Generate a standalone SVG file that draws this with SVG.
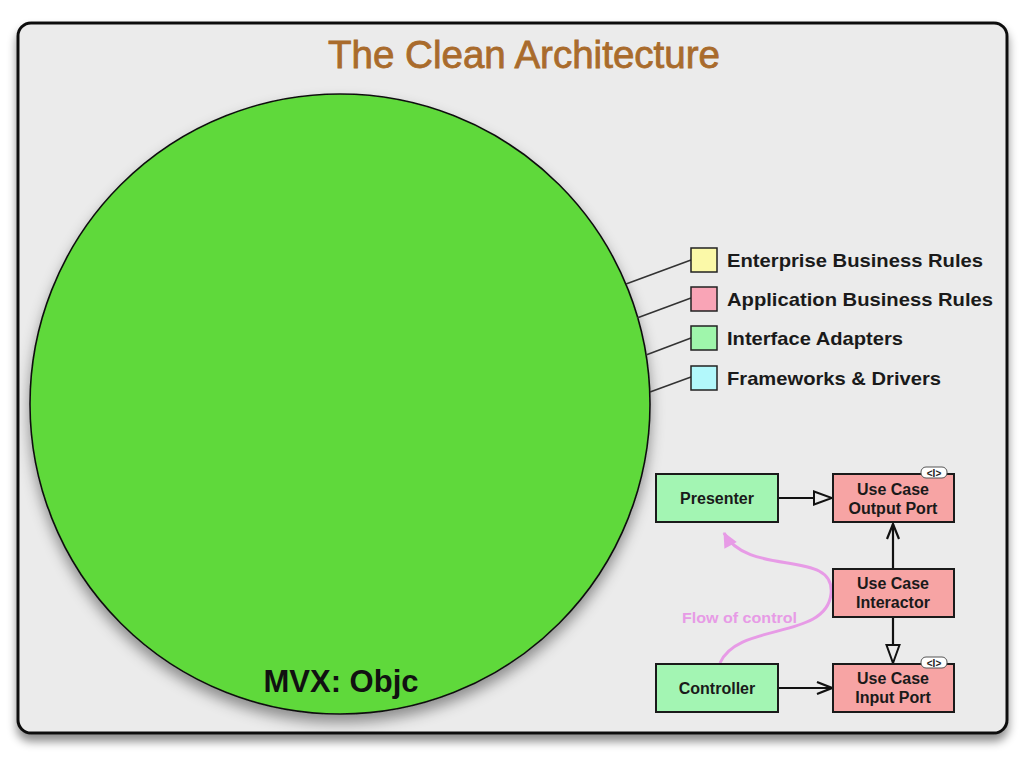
<svg xmlns="http://www.w3.org/2000/svg" width="1024" height="768" viewBox="0 0 1024 768">
<defs>
<style>
.lbl{font-family:"Liberation Sans",Arial,sans-serif;font-weight:bold;fill:#1a1a1a}
.leg{font-size:18.5px}
.box{font-size:16px;text-anchor:middle}
.sw{stroke:#222;stroke-width:1.5}
.nodeG{fill:#a3f5b3;stroke:#1a1a1a;stroke-width:2}
.nodeR{fill:#f7a4a4;stroke:#1a1a1a;stroke-width:2}
.conn{stroke:#111;stroke-width:2.2;fill:none}
.legline{stroke:#333;stroke-width:1.6;fill:none}
.badge{fill:#fff;stroke:#555;stroke-width:1}
.btxt{font-family:"Liberation Sans",Arial,sans-serif;font-size:10px;font-weight:bold;fill:#222;text-anchor:middle}
</style>
<filter id="sh" x="-10%" y="-10%" width="120%" height="125%">
<feDropShadow dx="0" dy="7" stdDeviation="5" flood-color="#000" flood-opacity="0.45"/>
</filter>
<filter id="csh" x="-10%" y="-10%" width="120%" height="125%">
<feDropShadow dx="0" dy="8" stdDeviation="7" flood-color="#000" flood-opacity="0.4"/>
</filter>
<marker id="tri" viewBox="0 0 22 16" markerWidth="22" markerHeight="16" refX="20" refY="8" orient="auto" markerUnits="userSpaceOnUse">
<path d="M2,1.5 L20,8 L2,14.5 Z" fill="#ebebeb" stroke="#111" stroke-width="2"/>
</marker>
<marker id="open" viewBox="0 0 20 16" markerWidth="20" markerHeight="16" refX="18" refY="8" orient="auto" markerUnits="userSpaceOnUse">
<path d="M3,2 L18,8 L3,14" fill="none" stroke="#111" stroke-width="2.2"/>
</marker>
<marker id="pink" viewBox="0 0 20 16" markerWidth="20" markerHeight="16" refX="16" refY="8" orient="auto" markerUnits="userSpaceOnUse">
<path d="M2,1 L17,8 L2,15 Z" fill="#e79be6"/>
</marker>
</defs>

<g id="frame">
<rect x="18" y="23" width="989" height="710" rx="13" fill="#ebebeb" stroke="#111" stroke-width="3" filter="url(#sh)"/>
</g>

<g id="title">
<text x="524" y="68" text-anchor="middle" font-family="'Liberation Sans',Arial,sans-serif" font-size="38" fill="#a96b2c" stroke="#a96b2c" stroke-width="0.8" textLength="392" lengthAdjust="spacingAndGlyphs">The Clean Architecture</text>
</g>

<g id="circle">
<circle cx="340" cy="404" r="310" fill="#5fd93a" stroke="#111" stroke-width="1.6" filter="url(#csh)"/>
<text x="341" y="692" text-anchor="middle" font-family="'Liberation Sans',Arial,sans-serif" font-weight="bold" font-size="31" fill="#111">MVX: Objc</text>
</g>

<g id="connectors">
<path class="legline" d="M626,284 L691,260"/>
<path class="legline" d="M637,318 L691,298"/>
<path class="legline" d="M646,355 L691,338"/>
<path class="legline" d="M650,392 L691,377"/>
<path class="conn" d="M779,498 L832,498" marker-end="url(#tri)"/>
<path class="conn" d="M893,569 L893,524" marker-end="url(#open)"/>
<path class="conn" d="M893,618 L893,663" marker-end="url(#tri)"/>
<path class="conn" d="M779,688 L832,688" marker-end="url(#open)"/>
<path d="M720,663 C738,622 826,640 831,594 C836,548 748,578 724,533" fill="none" stroke="#e79be6" stroke-width="3" marker-end="url(#pink)"/>
</g>

<g id="legend-enterprise">
<rect x="691" y="248" width="26" height="24" fill="#fbf9a8" class="sw"/>
<text x="727" y="267" class="lbl leg" textLength="256" lengthAdjust="spacingAndGlyphs">Enterprise Business Rules</text>
</g>
<g id="legend-application">
<rect x="691" y="287" width="26" height="24" fill="#f9a4b6" class="sw"/>
<text x="727" y="306" class="lbl leg" textLength="266" lengthAdjust="spacingAndGlyphs">Application Business Rules</text>
</g>
<g id="legend-adapters">
<rect x="691" y="326" width="26" height="24" fill="#9ff6ab" class="sw"/>
<text x="727" y="345" class="lbl leg" textLength="176" lengthAdjust="spacingAndGlyphs">Interface Adapters</text>
</g>
<g id="legend-frameworks">
<rect x="691" y="366" width="26" height="24" fill="#b2f8fb" class="sw"/>
<text x="727" y="385" class="lbl leg" textLength="214" lengthAdjust="spacingAndGlyphs">Frameworks &amp; Drivers</text>
</g>

<g id="presenter">
<rect x="656" y="474" width="122" height="48" class="nodeG"/>
<text x="717" y="504" class="lbl box">Presenter</text>
</g>
<g id="output-port">
<rect x="833" y="474" width="121" height="48" class="nodeR"/>
<text x="893" y="495" class="lbl box">Use Case</text>
<text x="893" y="514" class="lbl box">Output Port</text>
<rect x="921" y="467" width="26" height="11" rx="5" class="badge"/>
<text x="934" y="476.5" class="btxt">&lt;I&gt;</text>
</g>
<g id="interactor">
<rect x="833" y="569" width="121" height="48" class="nodeR"/>
<text x="893" y="589" class="lbl box">Use Case</text>
<text x="893" y="608" class="lbl box">Interactor</text>
</g>
<g id="controller">
<rect x="656" y="664" width="122" height="48" class="nodeG"/>
<text x="717" y="694" class="lbl box">Controller</text>
</g>
<g id="input-port">
<rect x="833" y="664" width="121" height="48" class="nodeR"/>
<text x="893" y="684" class="lbl box">Use Case</text>
<text x="893" y="703" class="lbl box">Input Port</text>
<rect x="921" y="657" width="26" height="11" rx="5" class="badge"/>
<text x="934" y="666.5" class="btxt">&lt;I&gt;</text>
</g>

<g id="flow-label">
<text x="682" y="623" font-family="'Liberation Sans',Arial,sans-serif" font-weight="bold" font-size="15" fill="#e79be6" textLength="115" lengthAdjust="spacingAndGlyphs">Flow of control</text>
</g>
</svg>
